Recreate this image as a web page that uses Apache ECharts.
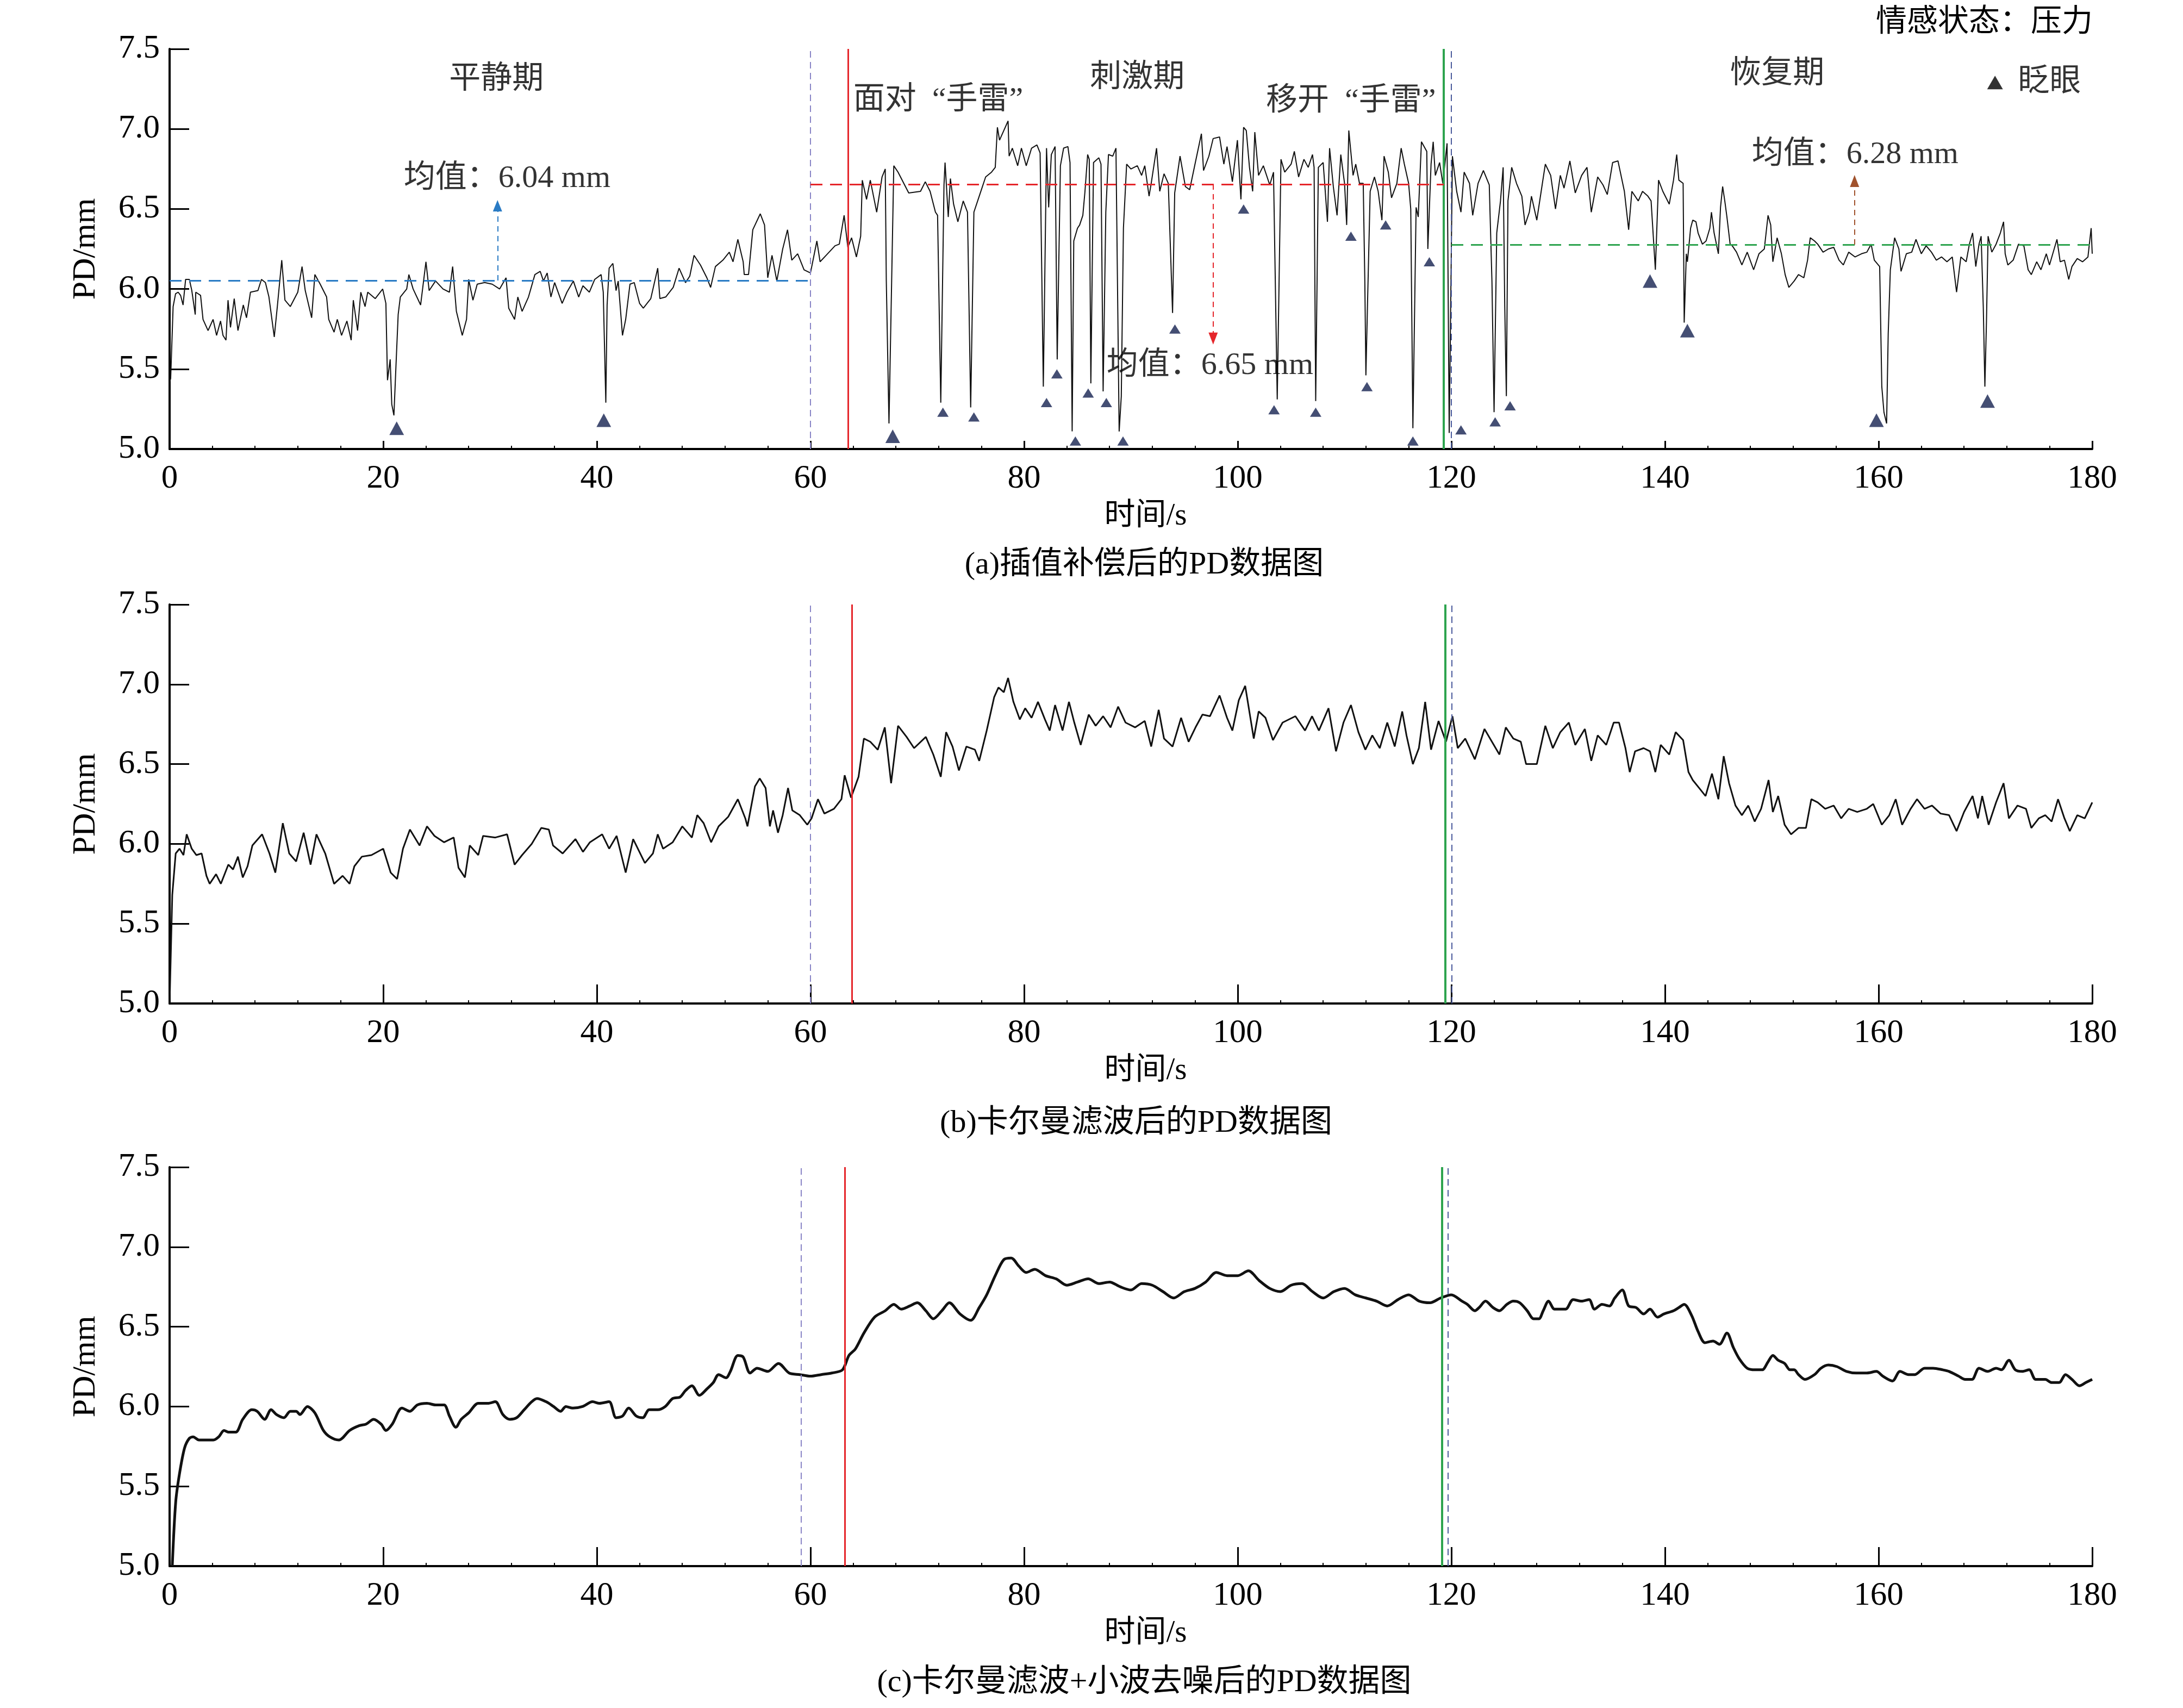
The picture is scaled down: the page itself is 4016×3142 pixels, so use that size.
<!DOCTYPE html>
<html><head><meta charset="utf-8">
<script src="https://cdn.jsdelivr.net/npm/echarts/dist/echarts.min.js"></script>
<style>html,body{margin:0;padding:0;background:#fff}#c{width:4016px;height:3142px}</style>
</head><body><div id="c"></div>
<script>
const FONT = '"Liberation Serif","Noto Sans CJK SC",serif';

// ---------- tick values ----------
const xMin = 0, xMax = 180, xStep = 20;
const yMin = 5.0, yMax = 7.5, yStep = 0.5;

// ---------- (a) raw PD after interpolation: [time s, PD mm] ----------
const rawPD = [
[0.0,5.42],[0.1,5.44],[0.33,5.89],[0.56,5.97],[0.8,5.98],[1.03,5.96],[1.26,5.90],[1.5,6.06],[1.85,6.06],[2.08,5.99],[2.4,5.84],[2.45,5.98],[2.9,5.96],[3.13,5.81],[3.6,5.74],[4.07,5.81],[4.4,5.71],[4.77,5.80],[5.0,5.71],[5.28,5.68],[5.47,5.93],[5.7,5.76],[6.05,5.94],[6.4,5.74],[6.9,5.90],[7.2,5.82],[7.57,5.98],[8.27,5.99],[8.6,6.06],[8.97,6.04],[9.3,5.95],[9.8,5.70],[10.1,5.90],[10.5,6.18],[10.8,5.93],[11.3,5.89],[12.0,5.98],[12.4,6.14],[12.7,5.99],[13.3,5.82],[13.6,6.09],[14.1,6.03],[14.7,5.95],[14.9,5.81],[15.4,5.73],[15.7,5.81],[16.1,5.71],[16.6,5.80],[17.0,5.68],[17.2,5.93],[17.6,5.74],[17.9,5.98],[18.3,5.89],[18.55,5.98],[19.25,5.94],[19.95,6.0],[20.25,5.91],[20.4,5.43],[20.65,5.56],[20.8,5.28],[21.0,5.21],[21.2,5.53],[21.4,5.84],[21.6,5.95],[22.2,6.0],[22.4,6.09],[22.8,6.0],[23.5,5.90],[24.0,6.17],[24.3,5.99],[24.9,6.05],[25.6,6.0],[26.2,5.98],[26.5,6.14],[26.85,5.86],[27.4,5.71],[27.8,5.81],[28.0,6.06],[28.4,5.93],[28.8,6.03],[29.5,6.04],[30.2,6.03],[30.9,6.0],[31.5,6.07],[31.75,5.88],[32.3,5.81],[32.6,5.95],[33.0,5.86],[33.6,5.95],[34.2,6.09],[34.7,6.11],[35.0,6.05],[35.35,6.10],[35.7,5.95],[36.05,6.04],[36.75,5.91],[37.2,5.98],[37.8,6.05],[38.3,5.95],[38.7,6.02],[39.3,5.98],[39.8,6.06],[40.4,6.09],[40.6,5.98],[40.84,5.29],[40.96,5.90],[41.15,6.13],[41.5,6.16],[41.8,5.99],[42.0,6.05],[42.4,5.71],[42.7,5.81],[43.1,6.03],[43.5,6.04],[44.0,5.91],[44.35,5.88],[45.05,5.94],[45.7,6.13],[45.9,5.94],[46.45,5.95],[47.15,6.01],[47.7,6.13],[48.3,6.04],[48.7,6.08],[49.1,6.21],[49.7,6.15],[50.3,6.07],[50.65,6.01],[51.1,6.14],[51.8,6.18],[52.4,6.23],[52.75,6.17],[53.2,6.31],[53.7,6.17],[53.8,6.09],[54.2,6.09],[54.6,6.37],[55.3,6.47],[55.7,6.40],[56.0,6.07],[56.4,6.21],[56.85,6.05],[57.4,6.25],[57.85,6.37],[58.25,6.18],[58.8,6.22],[59.4,6.12],[60.0,6.10],[60.6,6.30],[60.9,6.17],[61.6,6.22],[62.3,6.27],[62.7,6.28],[63.15,6.46],[63.5,6.26],[63.85,6.32],[64.3,6.20],[64.7,6.33],[64.85,6.68],[65.25,6.56],[65.6,6.68],[66.2,6.48],[66.7,6.70],[67.0,6.75],[67.1,6.05],[67.35,5.16],[67.6,6.05],[67.8,6.77],[68.2,6.73],[69.2,6.60],[70.3,6.61],[70.75,6.67],[71.2,6.61],[71.7,6.48],[71.9,6.46],[72.2,5.29],[72.5,6.65],[72.6,6.79],[72.9,6.45],[73.1,6.69],[73.4,6.53],[73.8,6.42],[74.3,6.55],[74.7,6.48],[75.0,5.26],[75.3,6.48],[75.8,6.58],[76.4,6.70],[76.95,6.73],[77.3,6.76],[77.5,7.01],[77.7,6.93],[78.1,6.99],[78.5,7.05],[78.6,6.83],[78.9,6.88],[79.4,6.77],[79.75,6.88],[80.2,6.77],[80.7,6.88],[81.2,6.90],[81.5,6.85],[81.8,5.39],[82.1,6.88],[82.3,6.51],[82.55,6.84],[82.9,6.89],[83.1,5.56],[83.4,6.77],[83.7,6.88],[84.1,6.89],[84.3,6.79],[84.5,5.11],[84.65,6.30],[85.0,6.38],[85.2,6.40],[85.5,6.46],[85.7,6.61],[85.95,6.84],[86.1,6.81],[86.25,5.41],[86.5,6.79],[87.0,6.82],[87.2,6.78],[87.4,5.36],[87.65,6.48],[87.9,6.84],[88.3,6.83],[88.6,6.88],[88.9,5.11],[89.1,5.33],[89.3,6.38],[89.6,6.78],[90.0,6.75],[90.6,6.77],[91.0,6.71],[91.3,6.77],[91.7,6.58],[91.9,6.66],[92.4,6.88],[92.7,6.61],[93.1,6.72],[93.5,6.66],[93.9,5.85],[94.1,6.60],[94.6,6.83],[95.1,6.64],[95.5,6.62],[96.0,6.78],[96.6,6.97],[96.8,6.74],[97.3,6.83],[97.7,6.94],[98.3,6.95],[98.7,6.78],[99.0,6.89],[99.5,6.67],[99.97,6.93],[100.3,6.56],[100.55,7.01],[100.8,6.99],[101.1,6.76],[101.4,6.61],[101.6,6.98],[101.95,6.71],[102.4,6.77],[103.0,6.65],[103.35,6.73],[103.7,5.31],[104.05,6.81],[104.4,6.73],[105.0,6.78],[105.3,6.86],[105.7,6.70],[106.2,6.81],[106.6,6.76],[107.0,6.84],[107.15,6.76],[107.3,5.30],[107.55,6.76],[108.0,6.79],[108.4,6.42],[108.6,6.88],[108.95,6.64],[109.3,6.46],[109.65,6.84],[110.0,6.66],[110.2,6.40],[110.4,6.99],[110.8,6.71],[111.05,6.78],[111.4,6.66],[111.75,6.66],[111.9,6.05],[112.0,5.46],[112.15,5.90],[112.4,6.61],[112.8,6.70],[113.15,6.61],[113.5,6.43],[113.7,6.83],[114.1,6.73],[114.4,6.57],[114.9,6.66],[115.3,6.88],[115.6,6.78],[116.0,6.66],[116.2,6.50],[116.4,5.13],[116.7,6.51],[116.9,6.45],[117.2,6.92],[117.7,6.86],[117.8,6.25],[118.1,6.78],[118.3,6.92],[118.5,6.71],[118.9,6.79],[119.2,6.66],[119.6,6.91],[119.8,5.10],[120.1,6.83],[120.5,6.61],[120.9,6.48],[121.2,6.73],[121.7,6.66],[122.0,6.46],[122.5,6.66],[123.0,6.74],[123.55,6.65],[123.8,6.05],[124.0,5.23],[124.25,6.35],[124.6,6.55],[124.85,6.76],[125.0,5.89],[125.15,5.33],[125.3,6.55],[125.65,6.76],[126.1,6.66],[126.6,6.58],[126.9,6.40],[127.3,6.48],[127.5,6.58],[128.0,6.43],[128.5,6.65],[128.8,6.78],[129.3,6.71],[129.75,6.50],[130.2,6.71],[130.55,6.63],[131.1,6.80],[131.6,6.60],[132.2,6.71],[132.7,6.76],[133.1,6.48],[133.7,6.70],[134.2,6.65],[134.6,6.59],[135.1,6.79],[135.6,6.80],[136.2,6.61],[136.6,6.37],[136.9,6.61],[137.5,6.55],[137.9,6.61],[138.4,6.58],[138.7,6.55],[139.1,6.12],[139.4,6.68],[139.8,6.61],[140.4,6.53],[140.8,6.68],[141.1,6.84],[141.3,6.68],[141.7,6.66],[141.8,5.79],[142.0,6.22],[142.1,6.17],[142.4,6.38],[142.6,6.43],[142.9,6.42],[143.1,6.35],[143.5,6.28],[143.85,6.30],[144.2,6.38],[144.35,6.48],[144.6,6.35],[145.0,6.22],[145.2,6.51],[145.4,6.64],[145.6,6.55],[145.8,6.45],[146.1,6.28],[146.3,6.27],[146.7,6.23],[147.2,6.15],[147.7,6.23],[148.3,6.12],[148.8,6.22],[149.3,6.25],[149.65,6.46],[149.9,6.40],[150.1,6.17],[150.5,6.32],[150.9,6.22],[151.25,6.09],[151.6,6.01],[152.1,6.05],[152.5,6.09],[153.0,6.07],[153.35,6.18],[153.6,6.32],[154.0,6.30],[154.3,6.28],[154.8,6.23],[155.3,6.25],[155.8,6.26],[156.3,6.18],[156.7,6.15],[157.2,6.23],[157.8,6.20],[158.4,6.22],[158.9,6.23],[159.3,6.28],[159.6,6.18],[160.1,6.14],[160.3,5.39],[160.5,5.23],[160.75,5.16],[160.9,5.72],[161.1,6.12],[161.5,6.32],[161.9,6.25],[162.1,6.11],[162.6,6.22],[163.1,6.23],[163.5,6.31],[164.0,6.22],[164.45,6.27],[164.95,6.23],[165.4,6.18],[165.9,6.20],[166.4,6.17],[166.9,6.20],[167.3,5.98],[167.7,6.20],[168.2,6.17],[168.5,6.28],[168.8,6.35],[169.1,6.14],[169.4,6.28],[169.6,6.33],[169.8,5.89],[169.95,5.39],[170.1,5.80],[170.25,6.33],[170.6,6.23],[171.0,6.28],[171.4,6.35],[171.7,6.42],[171.85,6.22],[172.1,6.15],[172.6,6.18],[173.1,6.28],[173.6,6.27],[174.0,6.12],[174.3,6.09],[174.8,6.17],[175.2,6.12],[175.7,6.22],[176.0,6.15],[176.7,6.31],[177.0,6.17],[177.4,6.18],[177.8,6.06],[178.1,6.14],[178.6,6.19],[179.1,6.17],[179.6,6.20],[179.9,6.38],[180.0,6.22]
];

// ---------- blink markers: [time, PD] ----------
const blinkBig = [[21.26,5.13],[40.65,5.18],[67.7,5.08],[138.6,6.05],[142.1,5.74],[159.8,5.18],[170.2,5.30]];
const blinkSmall = [[72.4,5.23],[75.3,5.20],[82.1,5.29],[83.07,5.47],[84.8,5.05],[86.0,5.35],[87.7,5.29],[89.26,5.05],[94.12,5.75],[100.55,6.50],[103.4,5.245],[107.3,5.23],[110.6,6.33],[112.1,5.39],[113.85,6.40],[116.4,5.05],[117.94,6.17],[120.9,5.12],[124.1,5.17],[125.5,5.27]];

// ---------- (b) Kalman filtered ----------
const kalmanPD = [
[0,5.0],[0.25,5.68],[0.57,5.94],[0.93,5.97],[1.3,5.93],[1.6,6.06],[2.07,5.97],[2.5,5.93],[3.0,5.94],[3.45,5.80],[3.75,5.75],[4.35,5.81],[4.8,5.75],[5.5,5.87],[5.94,5.84],[6.4,5.92],[6.85,5.79],[7.3,5.86],[7.75,5.99],[8.66,6.06],[9.35,5.94],[9.9,5.82],[10.6,6.13],[11.2,5.94],[11.85,5.89],[12.55,6.07],[13.2,5.87],[13.75,6.06],[14.57,5.94],[15.4,5.75],[16.2,5.80],[16.85,5.75],[17.3,5.86],[18.0,5.92],[18.9,5.93],[20.0,5.97],[20.7,5.82],[21.3,5.78],[21.85,5.97],[22.5,6.09],[23.4,5.99],[24.1,6.11],[24.8,6.05],[25.7,6.01],[26.6,6.04],[27.05,5.85],[27.65,5.79],[28.1,5.99],[28.9,5.93],[29.35,6.05],[30.5,6.04],[31.6,6.06],[32.3,5.87],[33.0,5.93],[33.9,6.00],[34.8,6.10],[35.5,6.09],[35.9,5.99],[36.8,5.94],[38.0,6.03],[38.7,5.95],[39.35,6.01],[40.5,6.06],[41.15,5.97],[41.85,6.05],[42.7,5.82],[43.4,6.03],[44.5,5.88],[45.25,5.94],[45.7,6.06],[46.2,5.97],[47.1,6.01],[48.0,6.11],[48.9,6.04],[49.4,6.18],[50.0,6.13],[50.7,6.01],[51.4,6.11],[52.3,6.17],[53.2,6.28],[53.9,6.16],[54.1,6.11],[54.8,6.36],[55.25,6.41],[55.8,6.35],[56.2,6.11],[56.5,6.21],[56.96,6.07],[57.4,6.18],[57.9,6.35],[58.3,6.21],[59.0,6.18],[59.7,6.12],[60.1,6.16],[60.7,6.28],[61.3,6.19],[62.2,6.22],[62.9,6.28],[63.2,6.43],[63.8,6.29],[64.5,6.42],[65.0,6.66],[65.6,6.64],[66.3,6.59],[66.96,6.73],[67.55,6.38],[68.2,6.74],[69.0,6.67],[69.7,6.60],[70.8,6.67],[71.5,6.56],[72.2,6.42],[72.7,6.70],[73.3,6.61],[73.9,6.46],[74.6,6.61],[75.4,6.59],[75.8,6.52],[76.5,6.71],[77.2,6.92],[77.6,6.98],[78.1,6.95],[78.5,7.04],[79.0,6.89],[79.6,6.78],[80.1,6.85],[80.7,6.79],[81.3,6.89],[81.95,6.78],[82.4,6.71],[82.9,6.87],[83.6,6.71],[84.2,6.89],[84.7,6.76],[85.3,6.62],[86.05,6.81],[86.7,6.74],[87.4,6.80],[88.1,6.73],[88.8,6.86],[89.5,6.76],[90.4,6.73],[91.3,6.77],[91.9,6.61],[92.6,6.84],[93.1,6.66],[93.9,6.61],[94.7,6.79],[95.4,6.64],[96.05,6.73],[96.7,6.81],[97.4,6.80],[98.3,6.93],[99.0,6.79],[99.5,6.71],[100.1,6.90],[100.7,6.99],[101.5,6.66],[101.96,6.83],[102.6,6.79],[103.3,6.65],[104.2,6.76],[105.4,6.80],[106.3,6.71],[106.96,6.80],[107.6,6.71],[108.5,6.85],[109.2,6.58],[109.9,6.76],[110.6,6.87],[111.3,6.70],[111.95,6.59],[112.6,6.68],[113.3,6.60],[114.0,6.76],[114.7,6.61],[115.4,6.83],[115.8,6.68],[116.4,6.50],[116.96,6.60],[117.55,6.89],[118.1,6.59],[118.8,6.77],[119.5,6.64],[120.1,6.80],[120.6,6.60],[121.3,6.66],[122.2,6.53],[123.1,6.72],[123.8,6.64],[124.5,6.56],[125.1,6.73],[125.8,6.66],[126.5,6.64],[127.0,6.50],[128.0,6.50],[128.8,6.74],[129.5,6.60],[130.2,6.70],[131.0,6.76],[131.6,6.62],[132.5,6.72],[133.1,6.52],[133.7,6.68],[134.5,6.62],[135.2,6.76],[135.7,6.76],[136.3,6.60],[136.7,6.45],[137.2,6.58],[138.0,6.60],[138.6,6.58],[139.1,6.45],[139.6,6.62],[140.4,6.56],[141.0,6.70],[141.7,6.65],[142.2,6.45],[142.6,6.40],[143.2,6.35],[143.8,6.30],[144.4,6.44],[145.0,6.28],[145.5,6.55],[146.0,6.38],[146.6,6.24],[147.2,6.18],[147.8,6.24],[148.4,6.14],[149.0,6.22],[149.7,6.40],[150.1,6.20],[150.6,6.30],[151.2,6.12],[151.8,6.06],[152.5,6.10],[153.2,6.10],[153.7,6.28],[154.3,6.26],[155.0,6.22],[155.8,6.24],[156.5,6.16],[157.2,6.22],[158.0,6.20],[158.9,6.22],[159.5,6.25],[160.3,6.12],[161.0,6.18],[161.6,6.28],[162.2,6.12],[163.0,6.22],[163.6,6.28],[164.3,6.22],[165.0,6.24],[165.8,6.19],[166.6,6.18],[167.3,6.08],[168.0,6.20],[168.8,6.30],[169.3,6.16],[169.7,6.30],[170.3,6.12],[171.0,6.26],[171.7,6.38],[172.2,6.16],[173.0,6.24],[173.8,6.22],[174.3,6.10],[175.0,6.16],[175.6,6.18],[176.2,6.14],[176.8,6.28],[177.4,6.16],[177.9,6.08],[178.6,6.18],[179.3,6.16],[180.0,6.26]
];

// ---------- (c) Kalman + wavelet denoising ----------
const waveletPD = [
[0.25,5.0],[0.57,5.40],[0.93,5.58],[1.4,5.74],[1.84,5.80],[2.2,5.81],[2.75,5.79],[3.66,5.79],[4.1,5.79],[4.6,5.81],[5.1,5.85],[5.5,5.84],[6.2,5.84],[6.85,5.92],[7.7,5.98],[8.2,5.97],[8.9,5.92],[9.5,5.98],[10.0,5.95],[10.7,5.93],[11.3,5.97],[11.85,5.97],[12.2,5.95],[12.9,6.00],[13.6,5.96],[14.4,5.85],[15.0,5.81],[15.85,5.79],[16.85,5.85],[17.75,5.88],[18.4,5.89],[19.1,5.92],[19.8,5.89],[20.25,5.85],[20.85,5.89],[21.75,5.99],[22.5,5.97],[23.2,6.01],[24.1,6.02],[24.9,6.01],[25.7,6.01],[26.2,5.94],[26.8,5.87],[27.3,5.92],[28.0,5.96],[28.9,6.02],[29.8,6.02],[30.5,6.03],[31.2,5.95],[31.85,5.92],[32.5,5.93],[33.2,5.98],[33.9,6.03],[34.4,6.05],[35.25,6.03],[35.95,6.00],[36.6,5.97],[37.1,6.00],[37.75,5.99],[38.66,6.00],[39.6,6.03],[40.25,6.02],[41.15,6.03],[41.8,5.93],[42.4,5.94],[42.98,5.99],[43.7,5.94],[44.3,5.93],[44.9,5.98],[45.7,5.98],[46.4,6.00],[47.1,6.05],[47.8,6.06],[48.3,6.10],[48.9,6.13],[49.6,6.07],[50.3,6.11],[50.9,6.15],[51.4,6.20],[52.1,6.18],[52.5,6.22],[53.2,6.32],[53.7,6.31],[54.35,6.21],[55.0,6.24],[56.0,6.22],[57.0,6.27],[58.0,6.21],[59.0,6.20],[60.0,6.19],[61.0,6.20],[62.0,6.21],[63.0,6.23],[63.6,6.32],[64.2,6.36],[65.0,6.46],[66.0,6.56],[67.0,6.60],[67.8,6.64],[68.5,6.61],[69.3,6.63],[70.0,6.65],[70.8,6.60],[71.5,6.55],[72.3,6.60],[73.0,6.65],[74.0,6.58],[75.0,6.54],[75.8,6.62],[76.5,6.70],[77.3,6.82],[78.1,6.92],[78.8,6.93],[79.5,6.88],[80.2,6.84],[81.0,6.86],[82.0,6.82],[83.0,6.80],[84.0,6.76],[85.0,6.78],[86.0,6.80],[87.0,6.77],[88.0,6.78],[89.0,6.75],[90.0,6.73],[91.0,6.77],[92.0,6.76],[93.0,6.72],[94.0,6.68],[95.0,6.72],[96.0,6.74],[97.0,6.78],[98.0,6.84],[99.0,6.82],[100.0,6.82],[101.0,6.85],[102.0,6.79],[103.0,6.74],[104.0,6.72],[105.0,6.76],[106.0,6.77],[107.0,6.72],[108.0,6.68],[109.0,6.72],[110.0,6.74],[111.0,6.70],[112.0,6.68],[113.0,6.66],[114.0,6.63],[115.0,6.67],[116.0,6.70],[117.0,6.66],[118.0,6.65],[119.0,6.68],[120.0,6.70],[121.0,6.66],[121.5,6.64],[122.2,6.60],[122.6,6.62],[123.2,6.66],[123.9,6.62],[124.5,6.60],[125.2,6.64],[125.8,6.66],[126.4,6.65],[127.1,6.60],[127.7,6.55],[128.2,6.55],[128.6,6.60],[129.1,6.66],[129.65,6.61],[130.1,6.61],[130.7,6.61],[131.4,6.67],[132.2,6.66],[132.9,6.67],[133.4,6.61],[134.1,6.64],[134.8,6.63],[135.3,6.68],[136.0,6.73],[136.6,6.63],[137.3,6.62],[138.0,6.58],[138.6,6.61],[139.3,6.56],[139.9,6.58],[140.8,6.60],[141.3,6.62],[141.8,6.64],[142.5,6.57],[143.1,6.47],[143.75,6.40],[144.5,6.41],[145.1,6.39],[145.8,6.46],[146.4,6.37],[146.95,6.30],[147.7,6.24],[148.45,6.23],[149.1,6.23],[149.65,6.28],[150.1,6.32],[150.6,6.29],[151.2,6.27],[151.7,6.23],[152.1,6.23],[152.5,6.20],[153.1,6.17],[154.0,6.20],[154.6,6.24],[155.3,6.26],[156.1,6.25],[157.0,6.22],[157.9,6.21],[158.9,6.21],[159.8,6.22],[160.4,6.19],[161.3,6.16],[162.0,6.22],[162.8,6.20],[163.4,6.20],[164.3,6.24],[165.1,6.24],[166.0,6.23],[166.6,6.22],[167.5,6.19],[168.1,6.17],[168.75,6.17],[169.4,6.24],[170.2,6.22],[171.0,6.24],[171.5,6.23],[172.2,6.29],[172.8,6.23],[173.45,6.22],[174.1,6.23],[174.7,6.17],[175.6,6.17],[176.2,6.15],[176.9,6.15],[177.5,6.20],[178.1,6.17],[178.8,6.13],[179.4,6.15],[180.0,6.17]
];

// ---------- event times (s) per panel: period boundaries, face / remove "grenade" ----------
const boundA = [60, 120], faceA = 63.5, removeA = 119.3;
const boundB = [60, 120.05], faceB = 63.9, removeB = 119.45;
const boundC = [59.1, 119.7], faceC = 63.2, removeC = 119.1;

// ---------- period means (mm) and arrow ends ----------
const meanCalm = 6.053, meanStim = 6.654, meanRecover = 6.277;
const arrowCalm = [30.7, 6.52], arrowStim = [97.7, 5.69], arrowRecover = [157.75, 6.675];

// ---------- annotation texts ----------
const annoText = ['平静期','均值：6.04 mm','面对\u2002“手雷”','刺激期','移开\u2002“手雷”','均值：6.65 mm','恢复期','均值：6.28 mm','眨眼'];
const annoPos = [[30.6,7.306],[31.6,6.69],[71.96,7.177],[90.6,7.317],[110.6,7.17],[97.4,5.52],[150.5,7.34],[157.8,6.84],[176.0,7.29]];
const legendTri = [[170.9,7.29]];
const captions = ['(a)插值补偿后的PD数据图','(b)卡尔曼滤波后的PD数据图','(c)卡尔曼滤波+小波去噪后的PD数据图'];
const emotion = '情感状态：压力';

// ---------- layout ----------
const grids = [
  {left:312, top:90, width:3537, height:736},
  {left:312, top:1112, width:3537, height:734},
  {left:312, top:2147, width:3537, height:734}
];
const xTickLen = [15, 35, 35];

function xAxisFor(i){
  return {gridIndex:i, type:'value', min:xMin, max:xMax, interval:xStep,
    axisLine:{show:true, onZero:false, lineStyle:{color:'#000', width:4}},
    axisTick:{show:true, inside:true, length:xTickLen[i], lineStyle:{color:'#000', width:3}},
    minorTick:{show:true, splitNumber:5, length:6, lineStyle:{color:'#000', width:2}},
    splitLine:{show:false},
    axisLabel:{fontSize:61, color:'#000', fontFamily:FONT, margin:24},
    name:'时间/s', nameLocation:'middle', nameGap:96,
    nameTextStyle:{fontSize:57, color:'#000', fontFamily:FONT, padding:[0,0,0,54]}};
}
function yAxisFor(i){
  return {gridIndex:i, type:'value', min:yMin, max:yMax, interval:yStep,
    axisLine:{show:true, onZero:false, lineStyle:{color:'#000', width:4}},
    axisTick:{show:true, inside:true, length:36, lineStyle:{color:'#000', width:3}},
    splitLine:{show:false},
    axisLabel:{fontSize:61, color:'#000', fontFamily:FONT, margin:18, formatter:v=>v.toFixed(1)},
    name:'PD/mm', nameLocation:'middle', nameGap:124, nameRotate:90,
    nameTextStyle:{fontSize:60, color:'#000', fontFamily:FONT}};
}

const dashPurple = {color:'#8a86c6', type:[12,8], width:2};
const dashNavy = {color:'#4b5b9c', type:[12,8], width:2};
function verticals(bound, face, remove){
  return [
    {xAxis:bound[0], lineStyle:dashPurple},
    {xAxis:face, lineStyle:{color:'#e5262b', type:'solid', width:3}},
    {xAxis:remove, lineStyle:{color:'#2ea44f', type:'solid', width:4}},
    {xAxis:bound[1], lineStyle:dashNavy}
  ];
}
const mlBase = {silent:true, symbol:['none','none'], label:{show:false}, animation:false, emphasis:{disabled:true}};

const markA = verticals(boundA, faceA, removeA).concat([
  [{coord:[xMin, meanCalm], lineStyle:{color:'#2a7bc4', type:[22,14], width:3}},{coord:[boundA[0], meanCalm]}],
  [{coord:[boundA[0], meanStim], lineStyle:{color:'#e5262b', type:[22,14], width:3}},{coord:[removeA, meanStim]}],
  [{coord:[boundA[1], meanRecover], lineStyle:{color:'#2ea44f', type:[22,14], width:3}},{coord:[xMax, meanRecover]}],
  [{coord:[arrowCalm[0], meanCalm], symbol:'none', lineStyle:{color:'#2a7bc4', type:[10,8], width:2}},{coord:arrowCalm, symbol:'triangle', symbolSize:[17,21]}],
  [{coord:[arrowStim[0], meanStim], symbol:'none', lineStyle:{color:'#e5262b', type:[10,8], width:2}},{coord:arrowStim, symbol:'triangle', symbolSize:[17,22]}],
  [{coord:[arrowRecover[0], meanRecover], symbol:'none', lineStyle:{color:'#a0522d', type:[10,8], width:2}},{coord:arrowRecover, symbol:'triangle', symbolSize:[17,22]}]
]);

const series = [
  {type:'line', xAxisIndex:0, yAxisIndex:0, data:rawPD, showSymbol:false, symbol:'none',
   lineStyle:{color:'#111', width:2}, z:3, markLine:Object.assign({}, mlBase, {data:markA})},
  {type:'scatter', xAxisIndex:0, yAxisIndex:0, data:blinkBig, symbol:'triangle', symbolSize:[27,25],
   itemStyle:{color:'#152250'}, z:5},
  {type:'scatter', xAxisIndex:0, yAxisIndex:0, data:blinkSmall, symbol:'triangle', symbolSize:[21,17],
   itemStyle:{color:'#152250'}, z:5},
  {type:'scatter', xAxisIndex:0, yAxisIndex:0, data:legendTri, symbol:'triangle', symbolSize:[29,25],
   itemStyle:{color:'#000'}, z:5},
  {type:'scatter', xAxisIndex:0, yAxisIndex:0, clip:false, symbolSize:1, itemStyle:{color:'rgba(0,0,0,0)'}, z:10,
   data:annoText.map((t,i)=>({name:t, value:annoPos[i]})),
   label:{show:true, position:'inside', formatter:'{b}', fontSize:58, color:'#000', fontFamily:FONT}},
  {type:'line', xAxisIndex:1, yAxisIndex:1, data:kalmanPD, showSymbol:false, symbol:'none',
   lineStyle:{color:'#111', width:3}, z:3, markLine:Object.assign({}, mlBase, {data:verticals(boundB, faceB, removeB)})},
  {type:'line', xAxisIndex:2, yAxisIndex:2, data:waveletPD, showSymbol:false, symbol:'none', smooth:0.3,
   lineStyle:{color:'#111', width:5}, z:3, markLine:Object.assign({}, mlBase, {data:verticals(boundC, faceC, removeC)})}
];

const capStyle = {fontSize:58, fontFamily:FONT, fill:'#000', align:'center', verticalAlign:'middle', textAlign:'center', textVerticalAlign:'middle'};
const graphic = [
  {type:'text', x:2105, y:1040, style:Object.assign({text:captions[0]}, capStyle)},
  {type:'text', x:2090, y:2067, style:Object.assign({text:captions[1]}, capStyle)},
  {type:'text', x:2105, y:3096, style:Object.assign({text:captions[2]}, capStyle)},
  {type:'text', x:3850, y:42, style:{text:emotion, fontSize:57, fontFamily:FONT, fill:'#000', align:'right', verticalAlign:'middle', textAlign:'right', textVerticalAlign:'middle'}}
];

const chart = echarts.init(document.getElementById('c'), null, {renderer:'canvas', width:4016, height:3142});
chart.setOption({
  animation:false,
  backgroundColor:'#fff',
  grid:grids,
  xAxis:[0,1,2].map(xAxisFor),
  yAxis:[0,1,2].map(yAxisFor),
  series:series,
  graphic:graphic
});
</script>
</body></html>
